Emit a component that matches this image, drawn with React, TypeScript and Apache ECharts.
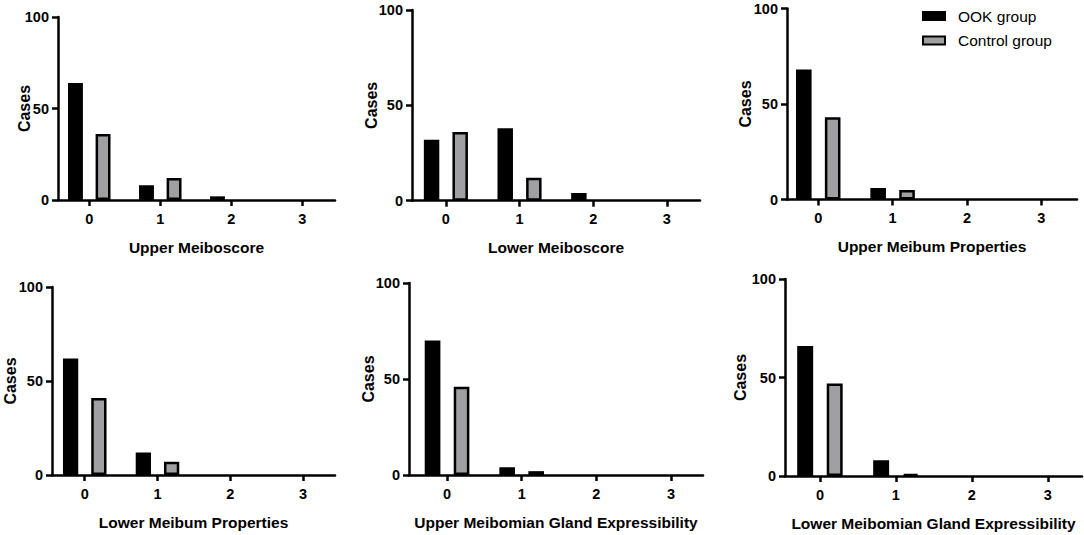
import React, { useEffect, useRef } from "react";
import * as echarts from "echarts";

const categories = [0, 1, 2, 3];
const seriesNames = ["OOK group", "Control group"];
const panelTitles = [
  "Upper Meiboscore",
  "Lower Meiboscore",
  "Upper Meibum Properties",
  "Lower Meibum Properties",
  "Upper Meibomian Gland Expressibility",
  "Lower Meibomian Gland Expressibility",
];
const ookUpperMeiboscore = [64, 8, 2, 0];
const controlUpperMeiboscore = [36, 12, 0, 0];
const ookLowerMeiboscore = [32, 38, 4, 0];
const controlLowerMeiboscore = [36, 12, 0, 0];
const ookUpperMeibum = [68, 6, 0, 0];
const controlUpperMeibum = [43, 5, 0, 0];
const ookLowerMeibum = [62, 12, 0, 0];
const controlLowerMeibum = [41, 7, 0, 0];
const ookUpperExpress = [70, 4, 0, 0];
const controlUpperExpress = [46, 2, 0, 0];
const ookLowerExpress = [66, 8, 0, 0];
const controlLowerExpress = [47, 1, 0, 0];

const ookData = [ookUpperMeiboscore, ookLowerMeiboscore, ookUpperMeibum, ookLowerMeibum, ookUpperExpress, ookLowerExpress];
const controlData = [controlUpperMeiboscore, controlLowerMeiboscore, controlUpperMeibum, controlLowerMeibum, controlUpperExpress, controlLowerExpress];

// layout: grid box and x extents per panel
const layout = [
  { left: 58, top: 17, width: 277, height: 183, xMin: -0.44, xMax: 3.46, yGap: 26 },
  { left: 412, top: 10, width: 288, height: 190.7, xMin: -0.46, xMax: 3.45, yGap: 33 },
  { left: 787, top: 8.5, width: 290, height: 191, xMin: -0.42, xMax: 3.48, yGap: 34 },
  { left: 52, top: 287, width: 283, height: 188, xMin: -0.45, xMax: 3.44, yGap: 34 },
  { left: 409, top: 283, width: 294, height: 192, xMin: -0.51, xMax: 3.43, yGap: 32.5 },
  { left: 785, top: 279, width: 297, height: 197, xMin: -0.46, xMax: 3.45, yGap: 37 },
];

const FONT = 'Arial, "Liberation Sans", sans-serif';

function toItems(values: number[]) {
  return categories.map((c, k) => ({
    value: [c, values[k]],
    itemStyle: values[k] === 0 ? { borderWidth: 0 } : undefined,
  }));
}

export default function App() {
  const ref = useRef<HTMLDivElement>(null);
  useEffect(() => {
    if (!ref.current) return;
    const chart = echarts.init(ref.current, undefined, { renderer: "svg" });
    const grid = layout.map((l) => ({ left: l.left, top: l.top, width: l.width, height: l.height, containLabel: false }));
    const xAxis = layout.map((l, i) => ({
      type: "value",
      gridIndex: i,
      min: l.xMin,
      max: l.xMax,
      z: 5,
      name: panelTitles[i],
      nameLocation: "middle",
      nameGap: 39,
      nameMoveOverlap: false,
      nameTextStyle: { fontFamily: FONT, fontSize: 15.5, fontWeight: "bold", color: "#000" },
      axisLine: { show: true, onZero: false, lineStyle: { color: "#000", width: 2.5 } },
      axisTick: { show: true, customValues: categories, length: 6, lineStyle: { color: "#000", width: 2.5 } },
      axisLabel: { customValues: categories, margin: 11, fontFamily: FONT, fontSize: 14.5, fontWeight: "bold", color: "#000" },
      splitLine: { show: false },
    }));
    const yAxis = layout.map((l, i) => ({
      type: "value",
      gridIndex: i,
      min: 0,
      max: 100,
      interval: 50,
      z: 5,
      name: "Cases",
      nameLocation: "middle",
      nameGap: l.yGap,
      nameMoveOverlap: false,
      nameTextStyle: { fontFamily: FONT, fontSize: 16, fontWeight: "bold", color: "#000" },
      axisLine: { show: true, onZero: false, lineStyle: { color: "#000", width: 2.5 } },
      axisTick: { show: true, length: 6, lineStyle: { color: "#000", width: 2.5 } },
      axisLabel: { margin: 9, fontFamily: FONT, fontSize: 14.5, fontWeight: "bold", color: "#000" },
      splitLine: { show: false },
    }));
    const series: any[] = [];
    layout.forEach((_, i) => {
      series.push({
        type: "bar",
        name: seriesNames[0],
        xAxisIndex: i,
        yAxisIndex: i,
        barWidth: "21%",
        barGap: "85%",
        z: 2,
        itemStyle: { color: "#000", borderColor: "#000", borderWidth: 2.5 },
        data: toItems(ookData[i]),
      });
      series.push({
        type: "bar",
        name: seriesNames[1],
        xAxisIndex: i,
        yAxisIndex: i,
        barWidth: "21%",
        barGap: "85%",
        z: 2,
        itemStyle: { color: "#a0a0a2", borderColor: "#000", borderWidth: 2.5 },
        data: toItems(controlData[i]),
      });
    });
    chart.setOption({
      animation: false,
      backgroundColor: "#fff",
      grid,
      xAxis,
      yAxis,
      legend: {
        data: seriesNames,
        orient: "vertical",
        left: 922,
        top: 7,
        padding: 0,
        icon: "rect",
        itemWidth: 22,
        itemHeight: 8,
        itemGap: 6.5,
        textStyle: { fontFamily: FONT, fontSize: 15.5, color: "#000", lineHeight: 18, padding: [0, 0, 0, 8] },
      },
      series,
    });
    return () => chart.dispose();
  }, []);
  return (
    <div
      ref={ref}
      style={{ position: "fixed", left: 0, top: 0, width: 1084, height: 535, background: "#fff" }}
    />
  );
}
